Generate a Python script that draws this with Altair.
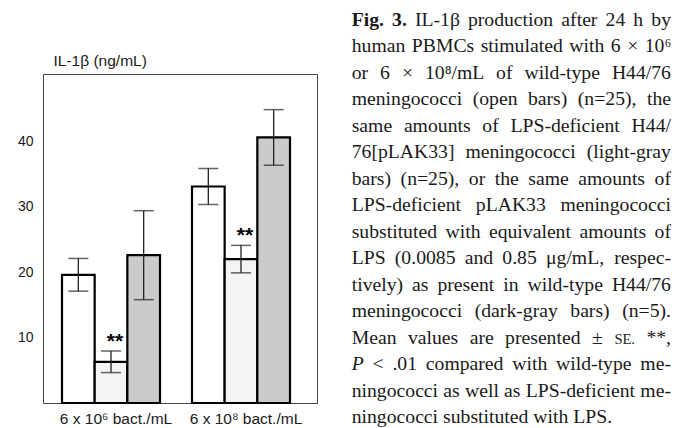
import altair as alt
import pandas as pd

# ---------------- data ----------------
groups = ["6 x 10⁶ bact./mL", "6 x 10⁸ bact./mL"]
strains = ["wild-type H44/76", "LPS-deficient pLAK33", "pLAK33 + LPS"]
means_1e6 = [19.6, 6.3, 22.6]
se_1e6 = [2.5, 1.65, 6.8]
means_1e8 = [33.1, 22.0, 40.6]
se_1e8 = [2.75, 2.1, 4.25]
stars_1e6 = ["", "**", ""]
stars_1e8 = ["", "**", ""]
y_ticks = [10, 20, 30, 40]
y_title = "IL-1β (ng/mL)"

caption_lines = [
    "Fig. 3. IL-1β production after 24 h by",
    "human PBMCs stimulated with 6 × 10⁶",
    "or 6 × 10⁸/mL of wild-type H44/76",
    "meningococci (open bars) (n=25), the",
    "same amounts of LPS-deficient H44/",
    "76[pLAK33] meningococci (light-gray",
    "bars) (n=25), or the same amounts of",
    "LPS-deficient pLAK33 meningococci",
    "substituted with equivalent amounts of",
    "LPS (0.0085 and 0.85 μg/mL, respec-",
    "tively) as present in wild-type H44/76",
    "meningococci (dark-gray bars) (n=5).",
    "Mean values are presented ± SE. **,",
    "P < .01 compared with wild-type me-",
    "ningococci as well as LPS-deficient me-",
    "ningococci substituted with LPS.",
]

# ---------------- table for the bars ----------------
rows = []
for g, ms, ss, st in [(groups[0], means_1e6, se_1e6, stars_1e6),
                      (groups[1], means_1e8, se_1e8, stars_1e8)]:
    for s, m, e, k in zip(strains, ms, ss, st):
        rows.append({"group": g, "strain": s, "mean": m,
                     "lo": m - e, "hi": m + e, "star": k})
df = pd.DataFrame(rows)

# ---------------- justified caption layout (text metrics) ----------------
W_REG = {' ': 250, '(': 333, ')': 333, '*': 500, ',': 250, '-': 333, '.': 250,
         '/': 278, '<': 564, '=': 564, '[': 333, ']': 333,
         'A': 722, 'B': 667, 'C': 667, 'D': 722, 'E': 611, 'F': 556, 'G': 722,
         'H': 722, 'I': 333, 'K': 722, 'L': 611, 'M': 889, 'N': 722, 'O': 722,
         'P': 556, 'R': 667, 'S': 556, 'T': 611,
         'a': 444, 'b': 500, 'c': 444, 'd': 500, 'e': 444, 'f': 333, 'g': 500,
         'h': 500, 'i': 278, 'j': 278, 'k': 500, 'l': 278, 'm': 778, 'n': 500,
         'o': 500, 'p': 500, 'q': 500, 'r': 333, 's': 389, 't': 278, 'u': 500,
         'v': 500, 'w': 722, 'x': 500, 'y': 500, 'z': 444,
         '×': 564, '±': 564, 'β': 500, 'μ': 576, '⁶': 333, '⁸': 333}
for d in "0123456789":
    W_REG[d] = 500
W_BOLD = {'F': 611, 'i': 278, 'g': 500, '.': 250, '3': 500}
W_ITAL = {'P': 611}

CAP_SIZE = 19.7
SMALL_SIZE = 14.5
CAP_X0 = 308.7          # relative to plot-area origin
CAP_W = 319.3
CAP_Y0 = -48.5
CAP_LH = 26.53


def word_style(i, j, w):
    if i == 0 and j < 2:
        return "bold"
    if w == "SE.":
        return "small"
    if i == 13 and j == 0:
        return "italic"
    return "normal"


def word_width(w, style):
    if style == "bold":
        return sum(W_BOLD.get(c, 500) for c in w) / 1000 * CAP_SIZE
    if style == "italic":
        return sum(W_ITAL.get(c, 500) for c in w) / 1000 * CAP_SIZE
    if style == "small":
        return sum(W_REG.get(c, 500) for c in w) / 1000 * SMALL_SIZE
    return sum(W_REG.get(c, 500) for c in w) / 1000 * CAP_SIZE


cap_rows = []
n_lines = len(caption_lines)
for i, line in enumerate(caption_lines):
    words = line.split(" ")
    styles = [word_style(i, j, w) for j, w in enumerate(words)]
    widths = [word_width(w, s) for w, s in zip(words, styles)]
    if i < n_lines - 1 and len(words) > 1:
        gap = (CAP_W - sum(widths)) / (len(words) - 1)
    else:
        gap = 0.25 * CAP_SIZE
    x = CAP_X0
    for w, s, wd in zip(words, styles, widths):
        cap_rows.append({"word": w, "style": s, "px": x, "py": CAP_Y0 + i * CAP_LH})
        x += wd + gap
cap_df = pd.DataFrame(cap_rows)

# ---------------- encodings ----------------
x_enc = alt.X("group:N", sort=groups,
              scale=alt.Scale(paddingInner=0.246, paddingOuter=0.177, align=0.413),
              axis=alt.Axis(title=None, labelAngle=0, ticks=False, domain=False,
                            labelFont="Liberation Sans", labelFontSize=15.5,
                            labelColor="#1a1a1a", labelPadding=8, labelOffset=5))
xo_enc = alt.XOffset("strain:N", sort=strains,
                     scale=alt.Scale(paddingInner=0, paddingOuter=0))
y_scale = alt.Scale(domain=[0, 50.3], nice=False)
y_axis = alt.Axis(values=y_ticks, ticks=False, domain=False, grid=False,
                  labelFont="Liberation Sans", labelFontSize=14, labelColor="#1a1a1a",
                  labelPadding=10, titleAngle=0, titleAlign="left",
                  titleBaseline="middle", titleX=10, titleY=-14,
                  titleFont="Liberation Sans", titleFontSize=15.5,
                  titleFontWeight="normal", titleColor="#1a1a1a")

base = alt.Chart(df)

bars = base.mark_bar(stroke="black", strokeWidth=2.2).encode(
    x=x_enc, xOffset=xo_enc,
    y=alt.Y("mean:Q", scale=y_scale, axis=y_axis, title=y_title),
    color=alt.Color("strain:N", sort=strains,
                    scale=alt.Scale(domain=strains,
                                    range=["#ffffff", "#f4f4f4", "#cbcbcb"]),
                    legend=None),
)

err = base.mark_rule(color="#222222", strokeWidth=1.3).encode(
    x=x_enc, xOffset=xo_enc,
    y=alt.Y("lo:Q", scale=y_scale, axis=y_axis, title=y_title),
    y2="hi:Q",
)
cap_lo = base.mark_tick(color="#222222", thickness=1.5, size=20).encode(
    x=x_enc, xOffset=xo_enc,
    y=alt.Y("lo:Q", scale=y_scale, axis=y_axis, title=y_title),
)
cap_hi = base.mark_tick(color="#222222", thickness=1.5, size=20).encode(
    x=x_enc, xOffset=xo_enc,
    y=alt.Y("hi:Q", scale=y_scale, axis=y_axis, title=y_title),
)
star_txt = base.mark_text(font="Liberation Sans", fontWeight="bold", fontSize=21,
                          dx=4, dy=-3, baseline="alphabetic", align="center",
                          color="black").encode(
    x=x_enc, xOffset=xo_enc,
    y=alt.Y("hi:Q", scale=y_scale, axis=y_axis, title=y_title),
    text="star:N",
)

main = alt.layer(bars, err, cap_lo, cap_hi, star_txt)


def cap_layer(style, **kw):
    return alt.Chart(cap_df).transform_filter(
        alt.datum.style == style
    ).mark_text(align="left", baseline="alphabetic", font="Liberation Serif",
                color="#1a1a1a", **kw).encode(
        x=alt.X("px:Q", scale=None, axis=None),
        y=alt.Y("py:Q", scale=None, axis=None),
        text="word:N",
    )


caption = alt.layer(
    cap_layer("normal", fontSize=CAP_SIZE),
    cap_layer("bold", fontSize=CAP_SIZE, fontWeight="bold"),
    cap_layer("italic", fontSize=CAP_SIZE, fontStyle="italic"),
    cap_layer("small", fontSize=SMALL_SIZE),
)

chart = alt.layer(main, caption).resolve_scale(
    x="independent", y="independent"
).properties(
    width=274, height=329,
    autosize=alt.AutoSizeParams(type="none"),
    padding={"left": 35, "top": 66, "right": 362, "bottom": 25},
    background="white",
).configure_view(stroke="#444444", strokeWidth=1)

chart.save("out.html", embed_options={"renderer": "svg", "actions": False})
